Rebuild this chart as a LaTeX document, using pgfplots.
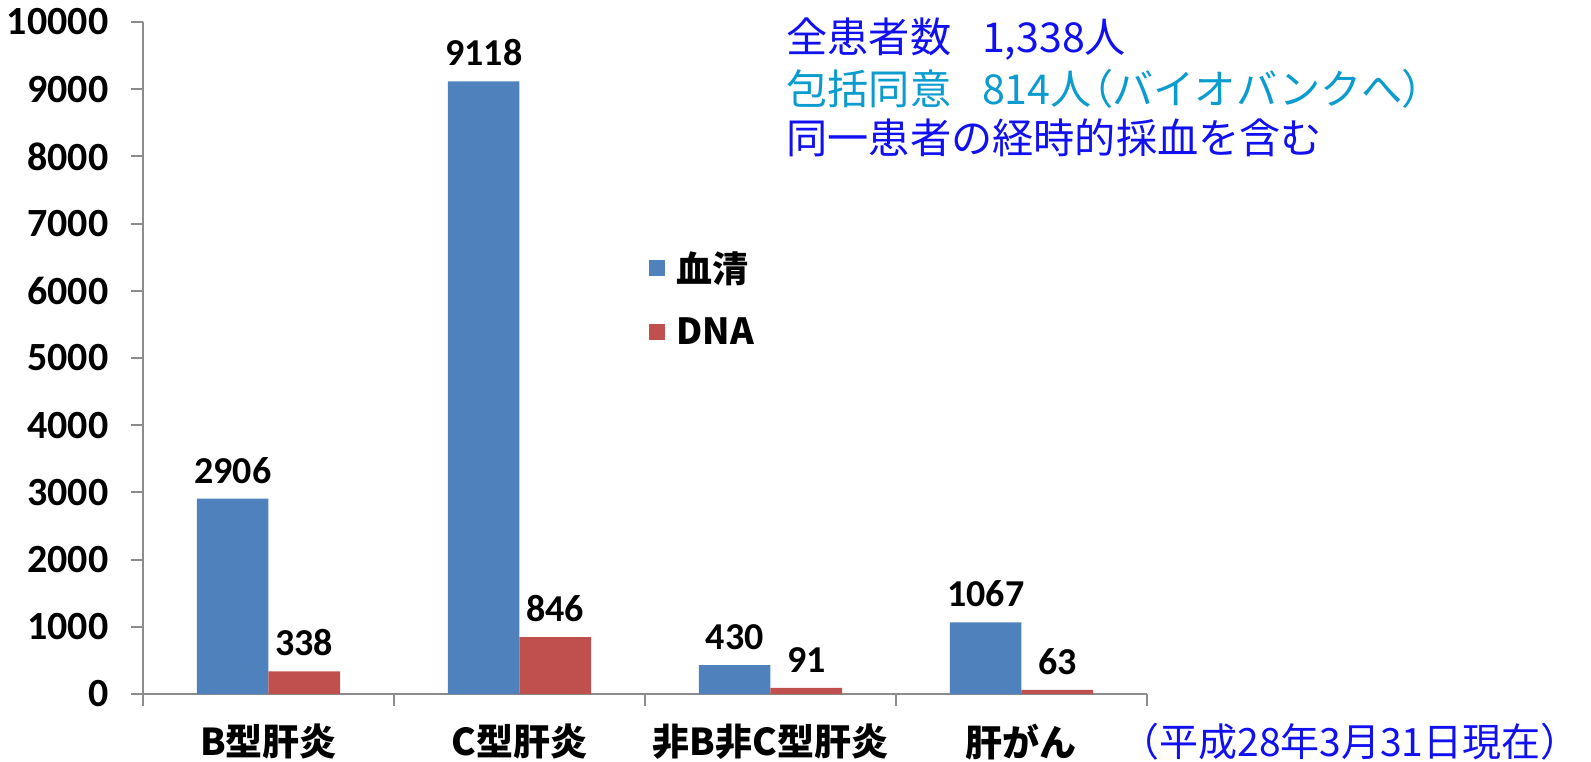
\documentclass[border=0pt]{standalone}
\usepackage{fontspec}
\setmainfont{Carlito}
\newfontfamily\cjk{Noto Sans CJK JP}
\newfontfamily\cjkp{Noto Sans CJK JP}[RawFeature=+palt]
\usepackage{pgfplots}
\pgfplotsset{compat=1.18}
\definecolor{serum}{HTML}{4F81BD}
\definecolor{dna}{HTML}{C0504D}
\definecolor{axgray}{HTML}{8C8C8C}
\definecolor{noteblue}{HTML}{1010F0}
\definecolor{noteteal}{HTML}{0A9BCF}
\newcommand{\tickfont}{\bfseries\fontsize{20}{22}\selectfont}
\newcommand{\numfont}{\bfseries\fontsize{19}{21}\selectfont}
\newcommand{\labfont}{\cjk\bfseries\fontsize{18.5}{21}\selectfont}
\newcommand{\legfont}{\cjk\bfseries\fontsize{18}{20}\selectfont}
\begin{document}
\begin{tikzpicture}
\useasboundingbox (-71.5pt,-33.5pt) rectangle (724pt,347pt);
\begin{axis}[
  at={(0pt,0pt)}, anchor=south west,
  scale only axis, width=502pt, height=336pt,
  xmin=-0.5, xmax=3.5, ymin=0, ymax=10000,
  axis x line*=bottom, axis y line*=left,
  axis line style={-, draw=axgray, line width=1pt},
  ybar=0pt, bar width=0.285,
  ytick={0,1000,...,10000},
  scaled y ticks=false,
  /pgf/number format/assume math mode=true,
  /pgf/number format/1000 sep={},
  tick align=outside,
  major tick length=5.8pt,
  minor tick length=5.8pt,
  tick style={draw=axgray, line width=1pt},
  xtick={0,1,2,3},
  xticklabels={B型肝炎, C型肝炎, 非B非C型肝炎, 肝がん},
  major x tick style={draw=none},
  minor xtick={-0.5,0.5,1.5,2.5,3.5},
  xticklabel style={font=\labfont, anchor=center, yshift=-18pt},
  yticklabel style={font=\tickfont, anchor=east, xshift=-8pt},
  nodes near coords,
  every node near coord/.append style={font=\numfont, text=black, yshift=4pt},
  legend style={at={(0.504,0.665)}, anchor=north west, draw=none, fill=none,
    font=\legfont, row sep=12pt, inner sep=0pt,
    /tikz/every odd column/.append style={column sep=3.5pt}},
  legend cell align=left,
  clip=false,
]
\addplot[fill=serum, draw=none,
  legend image code/.code={\fill[serum] (0pt,-4pt) rectangle (8pt,4pt);}]
  coordinates {(0,2906) (1,9118) (2,430) (3,1067)};
\addlegendentry{血清}
\addplot[fill=dna, draw=none,
  legend image code/.code={\fill[dna] (0pt,-4pt) rectangle (8pt,4pt);}]
  coordinates {(0,338) (1,846) (2,91) (3,63)};
\addlegendentry{DNA}
\end{axis}
\begin{scope}[every node/.style={anchor=west, inner sep=0pt}]
\node[text=noteblue, font=\cjk\fontsize{20.6}{24}\selectfont] at (321.5pt,327.7pt) {全患者数\hspace{0.75em}1,338人};
\node[text=noteteal, font=\cjk\fontsize{20.6}{24}\selectfont] at (321.5pt,302.4pt) {包括同意\hspace{0.75em}814人{\cjkp （}バイオバンクへ{\cjkp ）}};
\node[text=noteblue, font=\cjk\fontsize{20.6}{24}\selectfont] at (321.5pt,278pt) {同一患者の経時的採血を含む};
\node[text=noteblue, font=\cjk\fontsize{19.5}{22}\selectfont] at (488.5pt,-24pt) {（平成28年3月31日現在）};
\end{scope}
\end{tikzpicture}
\end{document}
